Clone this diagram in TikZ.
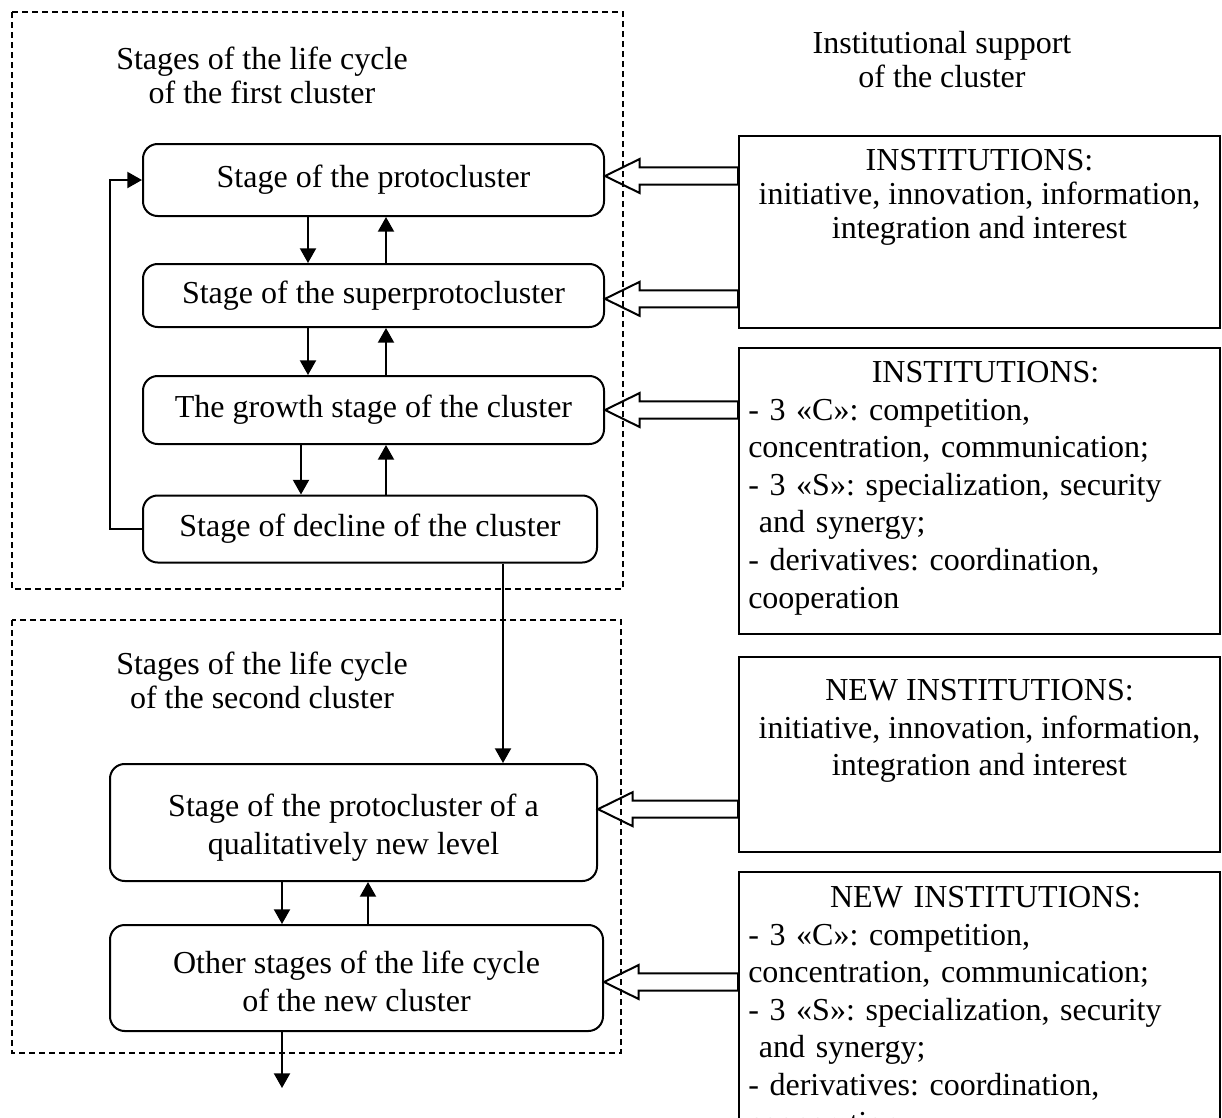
\documentclass[tikz,border=0pt]{standalone}
\usepackage{fontspec}
\setmainfont{Liberation Serif}
\usetikzlibrary{arrows.meta,calc}

% hollow arrow from an institutions box (#1) to a stage anchor (#2)
\newcommand{\instarrow}[2]{%
\draw[hollow] let \p1=(#2), \p2=(#1.west) in (\p1) -- ++(26pt,12.75pt) -- ++(0,-6.35pt) -- (\x2,\y1+6.4pt)
  -- (\x2,\y1-6.4pt) -- (\x1+26pt,\y1-6.4pt) -- ++(0,-6.35pt) -- cycle;}

\begin{document}
\begin{tikzpicture}[x=0.75pt,y=-0.75pt,font=\fontsize{24}{28.2}\selectfont\frenchspacing,
  stage/.style={draw,line width=1.5pt,rounded corners=11pt,inner sep=0pt,align=center},
  inst/.style={draw,line width=1.5pt,inner sep=0pt,minimum width=360.75pt},
  note/.style={anchor=north,inner sep=0pt,align=center},
  title/.style={note,font=\fontsize{24}{25.5}\selectfont},
  list/.style={anchor=north west,inner sep=0pt,text width=356pt,align=left},
  frame/.style={dash pattern=on 4.5pt off 3pt,line width=1.1pt},
  arr/.style={-{Triangle[length=11pt,width=12pt]},line width=1.5pt},
  hollow/.style={line width=1.5pt,line join=miter}]
\useasboundingbox (0,0) rectangle (1222,1118);
\clip (0,0) rectangle (1222,1118);

% the two clusters
\draw[frame] (12,12) rectangle (623,589);
\draw[frame] (12,620) rectangle (621,1053);
\node[title] (first) at (262,45.5) {\strut Stages of the life cycle\\ of the first cluster};
\node[title] (second) at (262,650.5) {\strut Stages of the life cycle\\ of the second cluster};
\node[title] (support) at (942,29.5) {\strut Institutional support\\ of the cluster};

% stages
\node[stage,minimum width=345.75pt,minimum height=54pt] (P1) at (373.5,180) {Stage of the protocluster};
\node[stage,minimum width=345.75pt,minimum height=47.25pt] (P2) at (373.5,295.5) {Stage of the superprotocluster};
\node[stage,minimum width=345.75pt,minimum height=51pt] (P3) at (373.5,410) {The growth stage of the cluster};
\node[stage,minimum width=340.5pt,minimum height=50.25pt] (P4) at (370,529) {Stage of decline of the cluster};
\node[stage,minimum width=365.25pt,minimum height=87.75pt] (N1) at (353.5,822.5) {\rule{0pt}{25pt}Stage of the protocluster of a\\ qualitatively new level};
\node[stage,minimum width=369.75pt,minimum height=79.5pt] (N2) at (356.5,978) {\rule{0pt}{22pt}Other stages of the life cycle\\ of the new cluster};
\coordinate (exit) at (282,1088);

% institutions
\node[inst,minimum height=144pt] (A) at (979.5,232) {};
\node[inst,minimum height=214.5pt] (B) at (979.5,491) {};
\node[inst,minimum height=146.25pt] (C) at (979.5,754.5) {};
\node[inst,minimum height=225pt] (D) at (979.5,1022) {};
\node[title] (At) at (979.5,146.5) {\strut INSTITUTIONS:\\ initiative, innovation, information,\\ integration and interest};
\node[list] (Bt) at (748,356) {{\centering\strut INSTITUTIONS:\par}\noindent- 3 «C»: competition,\\ concentration, communication;\\ - 3 «S»: specialization, security\\ \ and synergy;\\ - derivatives: coordination,\\ cooperation};
\node[note] (Ct) at (979.5,674) {\strut NEW INSTITUTIONS:\\ initiative, innovation, information,\\ integration and interest};
\node[list] (Dt) at (748,881) {{\centering\strut NEW INSTITUTIONS:\par}\noindent- 3 «C»: competition,\\ concentration, communication;\\ - 3 «S»: specialization, security\\ \ and synergy;\\ - derivatives: coordination,\\ cooperation};

% transitions between stages
\draw[arr] (P1.south -| 308,0) -- (P2.north -| 308,0);
\draw[arr] (P2.north -| 386,0) -- (P1.south -| 386,0);
\draw[arr] (P2.south -| 308,0) -- (P3.north -| 308,0);
\draw[arr] (P3.north -| 386,0) -- (P2.south -| 386,0);
\draw[arr] (P3.south -| 301,0) -- (P4.north -| 301,0);
\draw[arr] (P4.north -| 386,0) -- (P3.south -| 386,0);
\draw[arr] (P4.west) -- ++(-24pt,0) |- (P1.west);
\draw[arr] (P4.south -| 503,0) -- (N1.north -| 503,0);
\draw[arr] (N1.south -| 282,0) -- (N2.north -| 282,0);
\draw[arr] (N2.north -| 368,0) -- (N1.south -| 368,0);
\draw[arr] (N2.south -| exit) -- (exit);

% support of the stages
\instarrow{A}{[yshift=3pt]P1.east}
\instarrow{A}{[yshift=-2.5pt]P2.east}
\instarrow{B}{P3.east}
\instarrow{C}{[yshift=10pt]N1.east}
\instarrow{D}{[yshift=-3pt]N2.east}
\end{tikzpicture}
\end{document}
